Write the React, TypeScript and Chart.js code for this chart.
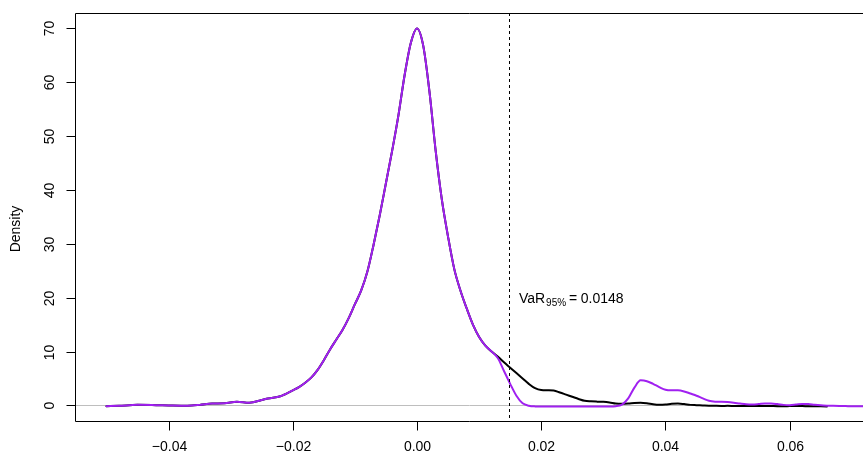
import React, { useEffect, useRef } from "react";
import { Chart, registerables } from "chart.js";

Chart.register(...registerables);

// ---- data ----
const coreX = [
  -0.05, -0.048, -0.045, -0.042, -0.04, -0.037, -0.035, -0.033, -0.031, -0.029,
  -0.027, -0.025, -0.024, -0.022, -0.02, -0.019, -0.018, -0.017, -0.016, -0.015,
  -0.014, -0.013, -0.012, -0.011, -0.01, -0.009, -0.008, -0.007, -0.006, -0.005,
  -0.004, -0.003, -0.002, -0.001, 0.0, 0.001, 0.002, 0.003, 0.004, 0.005,
  0.006, 0.007, 0.008, 0.009, 0.01, 0.011, 0.012,
];
const coreDensity = [
  0.05, 0.12, 0.3, 0.25, 0.2, 0.15, 0.3, 0.55, 0.6, 0.9,
  0.7, 1.2, 1.5, 1.9, 3.0, 3.6, 4.4, 5.4, 6.8, 8.6,
  10.6, 12.4, 14.2, 16.4, 19.0, 21.5, 25.0, 30.0, 35.5, 41.5,
  47.5, 54.0, 61.5, 67.5, 70.2, 67.0, 58.5, 47.5, 38.4, 31.5,
  25.5, 21.5, 18.2, 15.2, 12.9, 11.3, 10.2,
];
const tailX = [
  0.013, 0.014, 0.015, 0.016, 0.017, 0.018, 0.019, 0.02, 0.021, 0.022,
  0.023, 0.024, 0.025, 0.026, 0.027, 0.028, 0.029, 0.03, 0.031, 0.032,
  0.033, 0.034, 0.035, 0.036, 0.037, 0.038, 0.039, 0.04, 0.041, 0.042,
  0.043, 0.044, 0.045, 0.046, 0.047, 0.048, 0.049, 0.05, 0.051, 0.052,
  0.053, 0.054, 0.055, 0.056, 0.057, 0.058, 0.059, 0.06, 0.061, 0.062,
  0.063, 0.064, 0.065, 0.066, 0.067, 0.068, 0.069, 0.07, 0.071, 0.072,
];
const tailBlack: (number | null)[] = [
  9.3, 8.2, 7.2, 6.2, 5.2, 4.2, 3.4, 3.05, 3.0, 2.95,
  2.6, 2.2, 1.8, 1.4, 1.05, 0.95, 0.9, 0.87, 0.75, 0.55,
  0.5, 0.55, 0.65, 0.7, 0.6, 0.4, 0.3, 0.35, 0.5, 0.55,
  0.45, 0.3, 0.25, 0.2, 0.15, 0.12, 0.1, 0.12, 0.1, 0.08,
  0.07, 0.08, 0.1, 0.1, 0.08, 0.06, 0.05, 0.07, 0.08, 0.07,
  0.05, 0.04, 0.03, 0.02, null, null, null, null, null, null,
];
const tailPurple = [
  9.0, 6.6, 4.2, 2.0, 0.6, 0.15, 0.02, 0, 0, 0,
  0, 0, 0, 0, 0, 0, 0, 0, 0, 0.05,
  0.35, 1.5, 3.5, 4.85, 4.7, 4.2, 3.6, 3.1, 3.0, 3.0,
  2.8, 2.4, 2.0, 1.5, 1.05, 0.9, 0.88, 0.82, 0.7, 0.55,
  0.42, 0.38, 0.45, 0.55, 0.55, 0.45, 0.3, 0.25, 0.35, 0.48,
  0.45, 0.32, 0.22, 0.16, 0.12, 0.09, 0.07, 0.05, 0.04, 0.03,
];

const xTickValues = [-0.04, -0.02, 0, 0.02, 0.04, 0.06];
const xTickLabels = ["\u22120.04", "\u22120.02", "0.00", "0.02", "0.04", "0.06"];
const yTickValues = [0, 10, 20, 30, 40, 50, 60, 70];
const yTickLabels = ["0", "10", "20", "30", "40", "50", "60", "70"];
const yAxisTitle = "Density";

const varValue = 0.0148;
const varMain = "VaR";
const varSub = "95%";
const varEq = "=";
const varNumber = "0.0148";
const varLabelAt = [0.0164, 19.3];

const X_MIN = -0.0549;
const X_MAX = 0.0718;
const Y_MIN = -2.88;
const Y_MAX = 73.06;

const FONT = '"Liberation Sans", Arial, Helvetica, sans-serif';

const rPlotPlugin = {
  id: "rplot",
  beforeDatasetsDraw(chart: any) {
    const { ctx, chartArea: a, scales } = chart;
    const y = scales.y;
    ctx.save();
    ctx.beginPath();
    ctx.rect(a.left, a.top, a.right - a.left, a.bottom - a.top);
    ctx.clip();
    const y0 = Math.round(y.getPixelForValue(0)) - 0.5;
    ctx.strokeStyle = "#bebebe";
    ctx.lineWidth = 1;
    ctx.beginPath();
    ctx.moveTo(a.left, y0);
    ctx.lineTo(a.right, y0);
    ctx.stroke();
    ctx.restore();
  },
  afterDatasetsDraw(chart: any) {
    const { ctx, chartArea: a, scales } = chart;
    const x = scales.x;
    const y = scales.y;
    ctx.save();

    // dashed VaR line
    const vx = Math.round(x.getPixelForValue(varValue)) + 0.5;
    ctx.strokeStyle = "#000";
    ctx.lineWidth = 1;
    ctx.setLineDash([3, 3]);
    ctx.beginPath();
    ctx.moveTo(vx, a.top);
    ctx.lineTo(vx, a.bottom);
    ctx.stroke();
    ctx.setLineDash([]);

    // box
    const L = Math.round(a.left) - 0.5;
    const T = Math.round(a.top) + 0.5;
    const B = Math.round(a.bottom) - 0.5;
    ctx.beginPath();
    ctx.moveTo(a.right + 2, T);
    ctx.lineTo(L, T);
    ctx.lineTo(L, B);
    ctx.lineTo(a.right + 2, B);
    ctx.stroke();

    // y ticks
    ctx.fillStyle = "#000";
    ctx.font = `14px ${FONT}`;
    yTickValues.forEach((v, i) => {
      const py = Math.round(y.getPixelForValue(v)) - 0.5;
      ctx.beginPath();
      ctx.moveTo(L - 9, py);
      ctx.lineTo(L, py);
      ctx.stroke();
      ctx.save();
      ctx.translate(50, py);
      ctx.rotate(-Math.PI / 2);
      ctx.textAlign = "center";
      ctx.textBaseline = "middle";
      ctx.fillText(yTickLabels[i], 0, 0);
      ctx.restore();
    });

    // x ticks
    xTickValues.forEach((v, i) => {
      const px = Math.round(x.getPixelForValue(v)) + 0.5;
      ctx.beginPath();
      ctx.moveTo(px, B);
      ctx.lineTo(px, B + 9);
      ctx.stroke();
      ctx.textAlign = "center";
      ctx.textBaseline = "middle";
      ctx.fillText(xTickLabels[i], px, 447);
    });

    // y axis title
    ctx.save();
    ctx.translate(16, 229);
    ctx.rotate(-Math.PI / 2);
    ctx.textAlign = "center";
    ctx.textBaseline = "middle";
    ctx.fillText(yAxisTitle, 0, 0);
    ctx.restore();

    // VaR label
    ctx.textAlign = "left";
    ctx.textBaseline = "alphabetic";
    let tx = x.getPixelForValue(varLabelAt[0]);
    const ty = y.getPixelForValue(varLabelAt[1]);
    ctx.font = `14px ${FONT}`;
    ctx.fillText(varMain, tx, ty);
    tx += ctx.measureText(varMain).width + 1;
    ctx.font = `10px ${FONT}`;
    ctx.fillText(varSub, tx, ty + 3);
    tx += ctx.measureText(varSub).width + 3;
    ctx.font = `14px ${FONT}`;
    ctx.fillText(varEq, tx, ty);
    tx += ctx.measureText(varEq).width + 3.5;
    ctx.fillText(varNumber, tx, ty);

    ctx.restore();
  },
};

export default function App() {
  const ref = useRef<HTMLCanvasElement>(null);
  useEffect(() => {
    const purplePoints = coreX
      .map((v, i) => ({ x: v, y: coreDensity[i] }))
      .concat(tailX.map((v, i) => ({ x: v, y: tailPurple[i] })));
    const blackPoints = coreX
      .map((v, i) => ({ x: v, y: coreDensity[i] }))
      .concat(
        tailX
          .map((v, i) => ({ x: v, y: tailBlack[i] as number }))
          .filter((p) => p.y !== null)
      );
    const chart = new Chart(ref.current as HTMLCanvasElement, {
      type: "line",
      data: {
        datasets: [
          {
            label: "purple",
            data: purplePoints,
            borderColor: "#A020F0",
            borderWidth: 2,
            pointRadius: 0,
            fill: false,
            cubicInterpolationMode: "monotone",
            borderCapStyle: "round",
            borderJoinStyle: "round",
          },
          {
            label: "black",
            data: blackPoints,
            borderColor: "#000000",
            borderWidth: 2,
            pointRadius: 0,
            fill: false,
            cubicInterpolationMode: "monotone",
            borderCapStyle: "round",
            borderJoinStyle: "round",
          },
        ],
      },
      options: {
        animation: false,
        responsive: false,
        events: [],
        layout: { padding: { left: 76, top: 13, right: 0, bottom: 34 } },
        scales: {
          x: { type: "linear", min: X_MIN, max: X_MAX, display: false },
          y: { type: "linear", min: Y_MIN, max: Y_MAX, display: false },
        },
        plugins: { legend: { display: false }, tooltip: { enabled: false } },
      },
      plugins: [rPlotPlugin],
    } as any);
    return () => chart.destroy();
  }, []);
  return (
    <div style={{ position: "fixed", left: 0, top: 0, width: 863, height: 456, background: "#fff" }}>
      <canvas ref={ref} width={863} height={456} style={{ display: "block" }} />
    </div>
  );
}
